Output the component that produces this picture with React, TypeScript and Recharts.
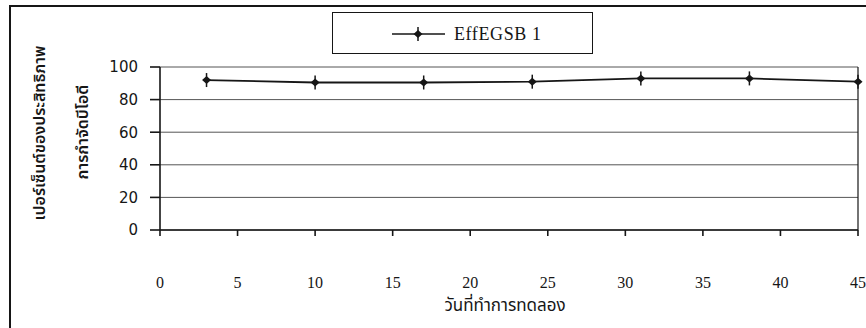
import React from 'react';
import {
  LineChart,
  Line,
  XAxis,
  YAxis,
  CartesianGrid,
  Legend,
  ReferenceLine,
} from 'recharts';

// BOD removal efficiency of the EGSB reactor by experiment day
const days = [3, 10, 17, 24, 31, 38, 45];
const effEgsb1 = [92, 90.5, 90.5, 91, 93, 93, 91];
const xTicks = [0, 5, 10, 15, 20, 25, 30, 35, 40, 45];
const yTicks = [0, 20, 40, 60, 80, 100];

const seriesName = 'EffEGSB 1';
const yTitleTop = 'เปอร์เซ็นต์ของประสิทธิภาพ';
const yTitleBottom = 'การกำจัดบีโอดี';
const xTitle = 'วันที่ทำการทดลอง';

const data = days.map((day, i) => ({ day, eff: effEgsb1[i] }));

const INK = '#161616';
const THAI_FONT = "'Noto Sans Thai', 'Noto Sans', 'DejaVu Sans', sans-serif";

const CrossDot = (props: any) => {
  const { cx, cy } = props;
  if (cx == null || cy == null) return null;
  return (
    <g>
      <line x1={cx} x2={cx} y1={cy - 7} y2={cy + 7} stroke={INK} strokeWidth={1.5} />
      <path
        d={`M${cx - 4.5},${cy} L${cx},${cy - 4} L${cx + 4.5},${cy} L${cx},${cy + 4} Z`}
        fill={INK}
      />
    </g>
  );
};

const LegendBox = () => (
  <div
    style={{
      width: 261,
      height: 42,
      border: `1px solid ${INK}`,
      boxSizing: 'border-box',
      background: '#fff',
    }}
  >
    <svg width={259} height={40}>
      <line x1={59} x2={112} y1={21} y2={21} stroke={INK} strokeWidth={1.6} />
      <CrossDot cx={85} cy={21} />
      <text
        x={121}
        y={27}
        fontFamily="'Liberation Serif', serif"
        fontSize={18}
        letterSpacing={0.6}
        fill={INK}
      >
        {seriesName}
      </text>
    </svg>
  </div>
);

const YTitle = () => (
  <g fill={INK} fontFamily={THAI_FONT} fontSize={16} fontWeight={600}>
    <text x={40} y={133} transform="rotate(-90 40 133)" textAnchor="middle" dominantBaseline="central">
      {yTitleTop}
    </text>
    <text x={83} y={132} transform="rotate(-90 83 132)" textAnchor="middle" dominantBaseline="central">
      {yTitleBottom}
    </text>
  </g>
);

const XTitle = () => (
  <text x={505} y={311} textAnchor="middle" fill={INK} fontFamily={THAI_FONT} fontSize={17}>
    {xTitle}
  </text>
);

export default function App() {
  return (
    <div
      style={{
        position: 'absolute',
        left: 0,
        top: 0,
        width: 866,
        height: 328,
        overflow: 'hidden',
        background: '#fff',
      }}
    >
      <div
        style={{
          position: 'absolute',
          left: 9,
          top: 5,
          width: 900,
          height: 400,
          borderLeft: `2px solid ${INK}`,
          borderTop: `2px solid ${INK}`,
        }}
      />
      <div style={{ position: 'absolute', left: 0, top: 0 }}>
        <LineChart
          width={866}
          height={328}
          data={data}
          margin={{ top: 67, right: 8, bottom: 0, left: 0 }}
        >
          <CartesianGrid vertical={false} stroke="#555" strokeWidth={1} />
          <ReferenceLine x={45} stroke={INK} strokeWidth={1.2} />
          <XAxis
            dataKey="day"
            type="number"
            domain={[0, 45]}
            ticks={xTicks}
            interval={0}
            height={98}
            stroke={INK}
            strokeWidth={1.6}
            tickSize={6}
            tickMargin={41}
            tick={{ fill: INK, fontSize: 16, fontFamily: "'Liberation Serif', serif" }}
            label={{ content: () => <XTitle /> }}
          />
          <YAxis
            type="number"
            domain={[0, 100]}
            ticks={yTicks}
            interval={0}
            width={160}
            stroke={INK}
            strokeWidth={1.6}
            tickSize={10}
            tickMargin={12}
            tick={{ fill: INK, fontSize: 15, fontFamily: "'DejaVu Sans', sans-serif" }}
            label={{ content: () => <YTitle /> }}
          />
          <Legend
            layout="horizontal"
            verticalAlign="middle"
            align="center"
            wrapperStyle={{ left: 332, top: 12, width: 261, height: 42 }}
            content={() => <LegendBox />}
          />
          <Line
            type="linear"
            dataKey="eff"
            name={seriesName}
            stroke={INK}
            strokeWidth={1.8}
            dot={<CrossDot />}
            activeDot={false}
            isAnimationActive={false}
          />
        </LineChart>
      </div>
    </div>
  );
}
